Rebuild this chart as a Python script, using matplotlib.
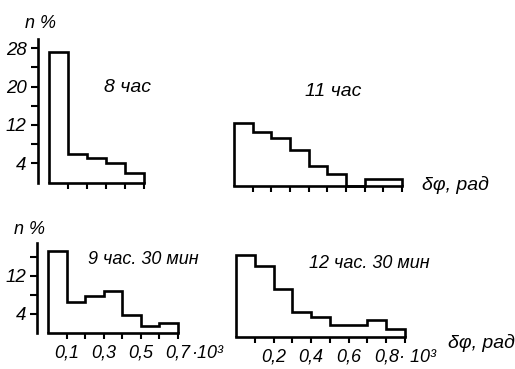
import matplotlib
matplotlib.use("Agg")
import matplotlib.pyplot as plt

# histogram data (bin width 0.1 * 10^3 rad), n in %
edges_8h = [0.0, 0.1, 0.2, 0.3, 0.4, 0.5]
n_8h = [27.2, 5.9, 5.2, 4.0, 2.0]

edges_11h = [0.0, 0.1, 0.2, 0.3, 0.4, 0.5, 0.6, 0.7, 0.8, 0.9]
n_11h = [13.1, 11.2, 10.1, 7.4, 4.2, 2.4, 0.0, 1.4, 1.4]

edges_9h30 = [0.0, 0.1, 0.2, 0.3, 0.4, 0.5, 0.6, 0.7]
n_9h30 = [17.3, 6.5, 7.8, 8.9, 3.8, 1.5, 2.2]

edges_12h30 = [0.0, 0.1, 0.2, 0.3, 0.4, 0.5, 0.6, 0.7, 0.8, 0.9]
n_12h30 = [17.3, 14.9, 10.0, 5.3, 4.1, 2.5, 2.5, 3.6, 1.6]

top_yticks = [4, 8, 12, 16, 20, 24, 28]
top_ylabels = ["4", "", "12", "", "20", "", "28"]
bot_yticks = [4, 8, 12, 16]
bot_ylabels = ["4", "", "12", ""]
bl_xlabels = {0.1: "0,1", 0.3: "0,3", 0.5: "0,5", 0.7: "0,7"}
br_xlabels = {0.2: "0,2", 0.4: "0,4", 0.6: "0,6", 0.8: "0,8"}

plt.rcParams["font.family"] = ["Liberation Sans Narrow", "Liberation Sans", "DejaVu Sans"]
plt.rcParams["font.style"] = "italic"

W, H = 515, 369
fig = plt.figure(figsize=(W / 100, H / 100), dpi=100)


def box(left, right, top, bottom):
    return [left / W, 1 - bottom / H, (right - left) / W, (bottom - top) / H]


def px(x, y):
    return x / W, 1 - y / H


def panel(rect, edges, vals, xlim, ylim, yaxis, yticks=None, ylabels=None, ytop=None):
    ax = fig.add_axes(rect)
    ax.stairs(vals, edges, baseline=0, fill=False, color="black", lw=1.9, clip_on=False)
    ax.set_xlim(*xlim)
    ax.set_ylim(*ylim)
    ax.patch.set_visible(False)
    for s in ["top", "right"]:
        ax.spines[s].set_visible(False)
    ax.spines["bottom"].set_bounds(edges[0], edges[-1])
    ax.spines["bottom"].set_linewidth(1.9)
    ax.set_xticks(edges[1:])
    ax.set_xticklabels([])
    ax.tick_params(axis="x", direction="out", length=4, width=1.5, pad=4.5, labelsize=13)
    if yaxis:
        ax.spines["left"].set_bounds(0, ytop)
        ax.spines["left"].set_linewidth(1.9)
        ax.set_yticks(yticks)
        ax.set_yticklabels(ylabels)
        ax.tick_params(axis="y", direction="out", length=5, width=1.5, pad=3, labelsize=13.5)
    else:
        ax.spines["left"].set_visible(False)
        ax.set_yticks([])
    return ax


ax_a = panel(box(37.5, 144, 38.5, 182.5), edges_8h, n_8h, (-0.06, 0.5), (0, 30),
             True, top_yticks, top_ylabels, 30)
ax_b = panel(box(234, 402, 42, 186), edges_11h, n_11h, (0, 0.9), (0, 30), False)
ax_c = panel(box(37, 178, 242.5, 333), edges_9h30, n_9h30, (-0.059, 0.7), (0, 19),
             True, bot_yticks, bot_ylabels, 19)
ax_d = panel(box(236, 405, 246.5, 337), edges_12h30, n_12h30, (0, 0.9), (0, 19), False)

ax_c.set_xticklabels([bl_xlabels.get(round(t, 1), "") for t in edges_9h30[1:]])
ax_d.set_xticklabels([br_xlabels.get(round(t, 1), "") for t in edges_12h30[1:]])
ax_c.annotate("·10³", xy=(0.7, 0), xycoords="data", xytext=(9.5, -14.5),
              textcoords="offset points", ha="left", va="center", fontsize=13)
ax_d.annotate("· 10³", xy=(0.8, 0), xycoords="data", xytext=(9, -14.5),
              textcoords="offset points", ha="left", va="center", fontsize=13)

fig.text(*px(25, 23), "n %", ha="left", va="center", fontsize=13)
fig.text(*px(14, 230), "n %", ha="left", va="center", fontsize=13)
fig.text(*px(127, 88), "8 час", ha="center", va="center", fontsize=14)
fig.text(*px(333, 92), "11 час", ha="center", va="center", fontsize=14)
fig.text(*px(143, 259), "9 час. 30 мин", ha="center", va="center", fontsize=13)
fig.text(*px(369, 263), "12 час. 30 мин", ha="center", va="center", fontsize=13)
fig.text(*px(455, 185), "δφ, рад", ha="center", va="center", fontsize=14)
fig.text(*px(481, 343), "δφ, рад", ha="center", va="center", fontsize=14)

fig.savefig("out.png", dpi=100)
plt.close(fig)
